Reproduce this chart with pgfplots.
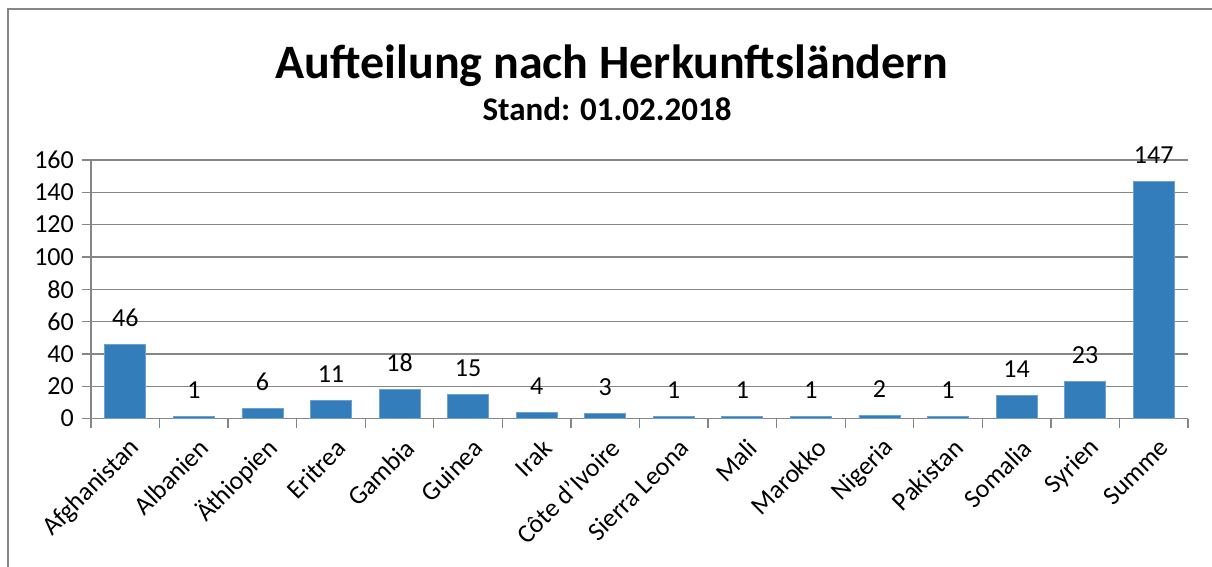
\documentclass[border=0pt]{standalone}
\usepackage{fontspec}
\setmainfont{Carlito}
\usepackage{pgfplots}
\pgfplotsset{compat=1.18}
\definecolor{barblue}{RGB}{50,125,186}
\definecolor{baredge}{RGB}{110,160,210}
\definecolor{gridgray}{RGB}{134,134,134}
\begin{document}
\begin{tikzpicture}
\path[use as bounding box] (0bp,0bp) rectangle (1212bp,567bp);
\draw[gridgray, line width=2bp] (7.5bp,0bp) -- (7.5bp,557.5bp) -- (1212bp,557.5bp);
\node[anchor=base, inner sep=0pt, font=\fontsize{48bp}{52bp}\selectfont\bfseries] at (612bp,488bp) {Aufteilung nach Herkunftsländern};
\node[anchor=base, inner sep=0pt, font=\fontsize{33bp}{36bp}\selectfont\bfseries] at (607bp,446bp) {Stand: 01.02.2018};
\begin{axis}[
  at={(91bp,148.5bp)}, anchor=south west,
  scale only axis, width=1097bp, height=258.5bp,
  xmin=0.5, xmax=16.5, ymin=0, ymax=160,
  ytick={0,20,...,160},
  xtick={1,...,16},
  xticklabels={Afghanistan,Albanien,Äthiopien,Eritrea,Gambia,Guinea,Irak,Côte d’Ivoire,Sierra Leona,Mali,Marokko,Nigeria,Pakistan,Somalia,Syrien,Summe},
  minor xtick={0.5,1.5,...,16.5},
  ymajorgrids, major grid style={gridgray, line width=1.3bp},
  axis x line*=bottom, axis y line*=left,
  axis line style={gridgray, line width=1.3bp, -},
  tick align=outside,
  major tick length=9bp, minor tick length=9bp,
  tick style={gridgray, line width=1.3bp},
  major x tick style={draw=none},
  ybar, bar width=41bp, bar shift=0pt,
  /pgf/number format/assume math mode=true,
  tick label style={font=\fontsize{26bp}{30bp}\selectfont, text=black},
  xticklabel style={rotate=45, anchor=east, inner sep=0pt, yshift=-19bp, xshift=-4bp},
  yticklabel style={inner sep=0pt, xshift=-8bp},
  nodes near coords,
  every node near coord/.append style={font=\fontsize{26bp}{30bp}\selectfont, text=black, anchor=base, yshift=18bp, inner sep=0pt},
  clip=false,
]
\addplot[fill=barblue, draw=baredge, line width=0.8bp] coordinates {
(1,46) (2,1) (3,6) (4,11) (5,18) (6,15) (7,4) (8,3) (9,1) (10,1) (11,1) (12,2) (13,1) (14,14) (15,23) (16,147)
};
\end{axis}
\end{tikzpicture}
\end{document}
